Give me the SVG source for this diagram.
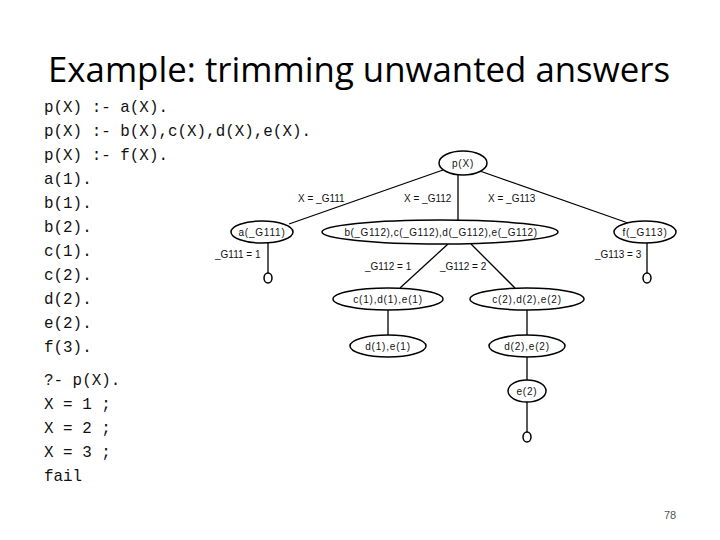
<svg xmlns="http://www.w3.org/2000/svg" width="720" height="540" viewBox="0 0 720 540">
<style>
.title{font-family:"Open Sans","Liberation Sans",sans-serif;font-size:35px;fill:#000}
.code{font-family:"Liberation Mono","Courier New",monospace;font-size:15.9px;fill:#111}
.n{font-family:"Liberation Sans",Arial,sans-serif;font-size:10px;fill:#111;text-anchor:middle;dominant-baseline:central;letter-spacing:0.8px}
.lb{font-family:"Liberation Sans",Arial,sans-serif;font-size:10px;fill:#111;dominant-baseline:central}
.shape{fill:#fff;stroke:#000;stroke-width:1.5}
.edge{stroke:#000;stroke-width:1.3;fill:none}
.pg{font-family:"Liberation Sans",Arial,sans-serif;font-size:11px;fill:#555;text-anchor:middle}
</style>
<rect width="720" height="540" fill="#fff"/>
<text class="title" x="48" y="82" textLength="622" lengthAdjust="spacingAndGlyphs">Example: trimming unwanted answers</text>
<g id="code">
<text class="code" x="44" y="112">p(X) :- a(X).</text>
<text class="code" x="44" y="136">p(X) :- b(X),c(X),d(X),e(X).</text>
<text class="code" x="44" y="160">p(X) :- f(X).</text>
<text class="code" x="44" y="184">a(1).</text>
<text class="code" x="44" y="208">b(1).</text>
<text class="code" x="44" y="232">b(2).</text>
<text class="code" x="44" y="256">c(1).</text>
<text class="code" x="44" y="280">c(2).</text>
<text class="code" x="44" y="304">d(2).</text>
<text class="code" x="44" y="328">e(2).</text>
<text class="code" x="44" y="352">f(3).</text>
<text class="code" x="44" y="385">?- p(X).</text>
<text class="code" x="44" y="409">X = 1 ;</text>
<text class="code" x="44" y="433">X = 2 ;</text>
<text class="code" x="44" y="457">X = 3 ;</text>
<text class="code" x="44" y="481">fail</text>
</g>
<g id="connectors">
<line class="edge" x1="443" y1="170" x2="289" y2="224"/>
<line class="edge" x1="458" y1="175" x2="458" y2="220"/>
<line class="edge" x1="477" y1="170" x2="628" y2="223"/>
<line class="edge" x1="268" y1="243" x2="268" y2="273"/>
<line class="edge" x1="448" y1="244" x2="400" y2="288"/>
<line class="edge" x1="471" y1="244" x2="515" y2="288"/>
<line class="edge" x1="388" y1="310" x2="388" y2="335"/>
<line class="edge" x1="527" y1="310" x2="527" y2="335"/>
<line class="edge" x1="527" y1="357" x2="527" y2="380"/>
<line class="edge" x1="527" y1="402" x2="527" y2="432"/>
<line class="edge" x1="647" y1="243" x2="647" y2="273"/>
<text class="lb" x="298" y="198">X = _G111</text>
<text class="lb" x="404" y="198">X = _G112</text>
<text class="lb" x="488" y="198">X = _G113</text>
<text class="lb" x="215" y="254">_G111 = 1</text>
<text class="lb" x="365" y="266">_G112 = 1</text>
<text class="lb" x="440" y="266">_G112 = 2</text>
<text class="lb" x="595" y="254">_G113 = 3</text>
</g>
<g id="n-p"><ellipse class="shape" cx="463" cy="163" rx="24" ry="12"/><text class="n" x="463" y="163">p(X)</text></g>
<g id="n-a"><ellipse class="shape" cx="262" cy="232" rx="31" ry="11"/><text class="n" x="262" y="232">a(_G111)</text></g>
<g id="n-bcde"><ellipse class="shape" cx="440" cy="232" rx="118" ry="12"/><text class="n" x="441" y="232" style="letter-spacing:0.55px">b(_G112),c(_G112),d(_G112),e(_G112)</text></g>
<g id="n-f"><ellipse class="shape" cx="645" cy="232" rx="31" ry="11"/><text class="n" x="645" y="232">f(_G113)</text></g>
<g id="n-a-done"><ellipse class="shape" cx="268" cy="278" rx="4" ry="5"/></g>
<g id="n-f-done"><ellipse class="shape" cx="647" cy="278" rx="4" ry="5"/></g>
<g id="n-cde1"><ellipse class="shape" cx="388" cy="299" rx="55" ry="11"/><text class="n" x="388" y="299">c(1),d(1),e(1)</text></g>
<g id="n-cde2"><ellipse class="shape" cx="527" cy="299" rx="57" ry="11"/><text class="n" x="527" y="299">c(2),d(2),e(2)</text></g>
<g id="n-de1"><ellipse class="shape" cx="388" cy="346" rx="38" ry="11"/><text class="n" x="388" y="346">d(1),e(1)</text></g>
<g id="n-de2"><ellipse class="shape" cx="527" cy="346" rx="38" ry="11"/><text class="n" x="527" y="346">d(2),e(2)</text></g>
<g id="n-e2"><ellipse class="shape" cx="527" cy="391" rx="19" ry="11"/><text class="n" x="527" y="391">e(2)</text></g>
<g id="n-e2-done"><ellipse class="shape" cx="527" cy="437" rx="4" ry="5"/></g>
<text class="pg" x="670" y="519">78</text>
</svg>
